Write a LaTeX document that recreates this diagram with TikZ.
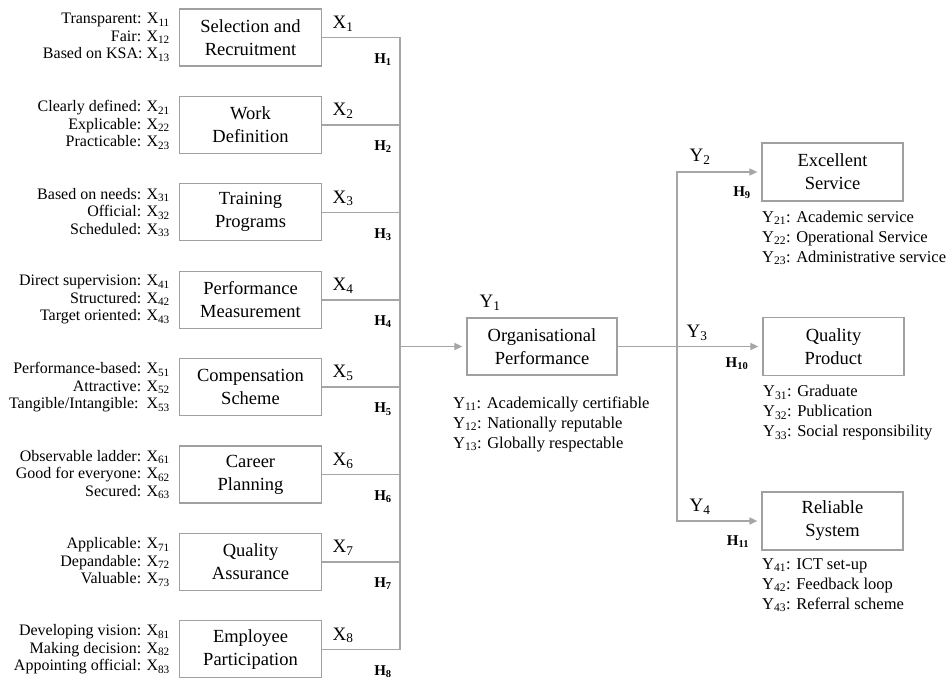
\documentclass[tikz,border=0pt]{standalone}
\usepackage{fontspec}
\setmainfont{LiberationSerif}[Extension=.ttf, UprightFont=*-Regular, BoldFont=*-Bold, ItalicFont=*-Italic, BoldItalicFont=*-BoldItalic]
\usetikzlibrary{arrows.meta}
\definecolor{lg}{RGB}{166,166,166}
\definecolor{bg}{RGB}{160,160,160}
\newcommand{\sbs}[1]{\textsubscript{#1}}
\tikzset{
 box/.style={draw=bg, line width=1.2pt, minimum width=142pt, minimum height=57pt, align=center, inner sep=0pt, font=\fontsize{18.5}{23}\selectfont},
 conn/.style={draw=lg, line width=1.6pt},
 arr/.style={conn, -{Triangle[width=7pt,length=8pt]}, shorten >=4pt},
 ind/.style={anchor=east, align=right, font=\fontsize{16}{17.5}\selectfont, inner sep=0pt},
 ylist/.style={anchor=west, align=left, font=\fontsize{16.5}{20}\selectfont, inner sep=0pt},
 xlab/.style={font=\fontsize{19}{20}\selectfont, inner sep=0pt},
 hlab/.style={font=\bfseries\fontsize{15}{16}\selectfont, inner sep=0pt},
}
\newcommand{\xrow}[6]{%
 \node[box] (b#1) at (250.5,#2) {#3};
 \node[ind] (i#1) at (170,#2) {#4\\#5\\#6};
 \coordinate (j#1) at (400,#2);
 \node[xlab] (x#1) at (343,#2-14) {X\sbs{#1}};
 \node[hlab] (h#1) at (383,#2+22) {H\sbs{#1}};
}
\begin{document}
\begin{tikzpicture}[x=1pt,y=-1pt]
\useasboundingbox (0,0) rectangle (947,682);
\xrow{1}{37.5}{Selection and\\Recruitment}{Transparent: X\sbs{11}}{Fair: X\sbs{12}}{Based on KSA: X\sbs{13}}
\xrow{2}{124.9}{Work\\Definition}{Clearly defined: X\sbs{21}}{Explicable: X\sbs{22}}{Practicable: X\sbs{23}}
\xrow{3}{212.3}{Training\\Programs}{Based on needs: X\sbs{31}}{Official: X\sbs{32}}{Scheduled: X\sbs{33}}
\xrow{4}{299.7}{Performance\\Measurement}{Direct supervision: X\sbs{41}}{Structured: X\sbs{42}}{Target oriented: X\sbs{43}}
\xrow{5}{387.1}{Compensation\\Scheme}{Performance-based: X\sbs{51}}{Attractive: X\sbs{52}}{Tangible/Intangible:\ \ X\sbs{53}}
\xrow{6}{474.5}{Career\\Planning}{Observable ladder: X\sbs{61}}{Good for everyone: X\sbs{62}}{Secured: X\sbs{63}}
\xrow{7}{561.9}{Quality\\Assurance}{Applicable: X\sbs{71}}{Depandable: X\sbs{72}}{Valuable: X\sbs{73}}
\xrow{8}{649.3}{Employee\\Participation}{Developing vision: X\sbs{81}}{Making decision: X\sbs{82}}{Appointing official: X\sbs{83}}
\draw[conn] (b1.east) -- (j1) -- (j8) -- (b8.east);
\foreach \k in {2,...,7} {\draw[conn] (b\k.east) -- (j\k);}
% central
\node[box, minimum width=150pt] (org) at (542,346.5) {Organisational\\Performance};
\coordinate (jm) at (400,346.5);
\draw[arr] (jm) -- (org);
\node[xlab] (y1) at (490,303) {Y\sbs{1}};
\node[ylist] (l1) at (453,424) {Y\sbs{11}: Academically certifiable\\Y\sbs{12}: Nationally reputable\\Y\sbs{13}: Globally respectable};
% right boxes
\node[box, minimum width=141pt, minimum height=58pt] (es) at (832.5,172) {Excellent\\Service};
\node[box, minimum width=141pt, minimum height=58pt] (qp) at (833.5,346.5) {Quality\\Product};
\node[box, minimum width=141pt, minimum height=58pt] (rs) at (832.5,521) {Reliable\\System};
\coordinate (k) at (677,346.5);
\draw[arr] (org) -- (qp);
\draw[arr] (k) |- (es);
\draw[arr] (k) |- (rs);
\node[xlab] (y2) at (700,157) {Y\sbs{2}};
\node[hlab] (h9) at (742,193) {H\sbs{9}};
\node[xlab] (y3) at (697,333) {Y\sbs{3}};
\node[hlab] (h10) at (737,364) {H\sbs{10}};
\node[xlab] (y4) at (700,507) {Y\sbs{4}};
\node[hlab] (h11) at (738,542) {H\sbs{11}};
\node[ylist] (l2) at (762,238) {Y\sbs{21}: Academic service\\Y\sbs{22}: Operational Service\\Y\sbs{23}: Administrative service};
\node[ylist] (l3) at (763,413) {Y\sbs{31}: Graduate\\Y\sbs{32}: Publication\\Y\sbs{33}: Social responsibility};
\node[ylist] (l4) at (762,585) {Y\sbs{41}: ICT set-up\\Y\sbs{42}: Feedback loop\\Y\sbs{43}: Referral scheme};
\end{tikzpicture}
\end{document}
